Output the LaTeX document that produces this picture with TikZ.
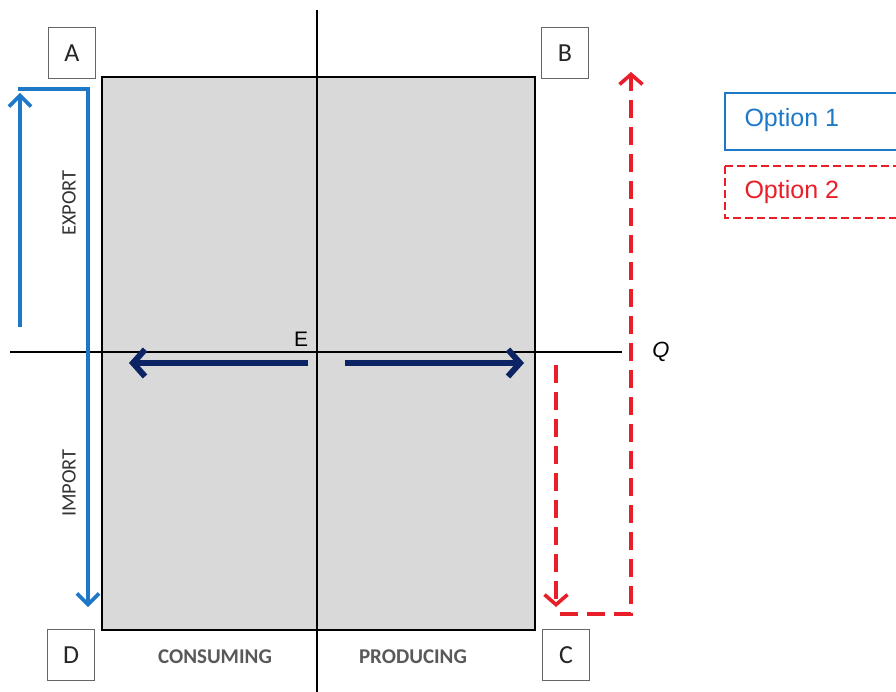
\documentclass[tikz,border=0pt]{standalone}
\usepackage{fontspec}
\setmainfont{Carlito}
\newfontfamily\arialf{Liberation Sans}
\usetikzlibrary{arrows.meta}
\definecolor{optblue}{RGB}{30,120,200}
\definecolor{navyarr}{RGB}{12,35,100}
\definecolor{optred}{RGB}{232,30,40}
\definecolor{panelgray}{RGB}{217,217,217}
\begin{document}
\begin{tikzpicture}[x=1pt,y=-1pt,
  cornerbox/.style={draw=black!60, line width=1pt, fill=white, minimum width=47pt, minimum height=51pt, inner sep=0pt, font=\fontsize{26}{26}\selectfont, text=black!85},
  axis/.style={draw=black, line width=1.8pt},
  blueflow/.style={draw=optblue, line width=3.6pt, -{Straight Barb[length=11pt,width=22pt]}},
  navyflow/.style={draw=navyarr, line width=6pt, -{Straight Barb[length=12pt,width=27pt]}},
  redflow/.style={draw=optred, line width=3.6pt, dash pattern=on 18pt off 9pt, -{Straight Barb[length=10pt,width=23pt]}},
  sidelabel/.style={rotate=90, font=\fontsize{20.5}{20.5}\selectfont, text=black!80},
  footlabel/.style={font=\bfseries\fontsize{21}{21}\selectfont, text=black!65},
  legend1/.style={draw=optblue, line width=1.5pt},
  legend2/.style={draw=optred, line width=1.5pt, dash pattern=on 8pt off 4pt}
]
\useasboundingbox (0,0) rectangle (896,692);
% panel
\filldraw[fill=panelgray, draw=black, line width=2.6pt] (102,77) rectangle (535,630);
% axes
\coordinate (vtop) at (317,10);
\coordinate (vbot) at (317,692);
\coordinate (hleft) at (10,352);
\coordinate (hright) at (622,352);
\draw[axis] (vtop) -- (vbot);
\draw[axis] (hleft) -- (hright);
\node (Q) at (661,352) {\arialf\itshape\fontsize{22}{22}\selectfont Q};
\node (E) at (301,339) {\arialf\fontsize{21}{21}\selectfont E};
% corner boxes
\node[cornerbox] (A) at (72,53) {A};
\node[cornerbox] (B) at (565,53) {B};
\node[cornerbox] (D) at (71,655) {D};
\node[cornerbox] (C) at (566,655) {C};
% option 1 (blue)
\coordinate (b1) at (20,327);
\coordinate (b2) at (20,93);
\coordinate (b3) at (18.2,89);
\coordinate (b4) at (88,89);
\coordinate (b5) at (88,607);
\draw[blueflow] (b1) -- (b2);
\draw[blueflow] (b3) -- (b4) -- (b5);
\node[sidelabel] (export) at (69,203) {EXPORT};
\node[sidelabel] (import) at (69,483) {IMPORT};
% navy arrows
\coordinate (n1) at (308,363);
\coordinate (n2) at (129,363);
\coordinate (n3) at (345,363);
\coordinate (n4) at (524,363);
\draw[navyflow] (n1) -- (n2);
\draw[navyflow] (n3) -- (n4);
% option 2 (red)
\coordinate (r1) at (556,365);
\coordinate (r2) at (556,607);
\coordinate (r3) at (560,614);
\coordinate (r4) at (631,614);
\coordinate (r5) at (631,72);
\draw[redflow] (r1) -- (r2);
\draw[redflow] (r3) -- (r4) -- (r5);
% footer labels
\node[footlabel] (cons) at (215,657) {CONSUMING};
\node[footlabel] (prod) at (413,657) {PRODUCING};
% legend
\draw[legend1] (725,93) rectangle (905,150);
\node[text=optblue, font=\arialf\fontsize{25}{25}\selectfont, anchor=west] (opt1) at (741,120) {Option 1};
\draw[legend2] (725,166) rectangle (905,218);
\node[text=optred, font=\arialf\fontsize{25}{25}\selectfont, anchor=west] (opt2) at (741,192) {Option 2};
\end{tikzpicture}
\end{document}
